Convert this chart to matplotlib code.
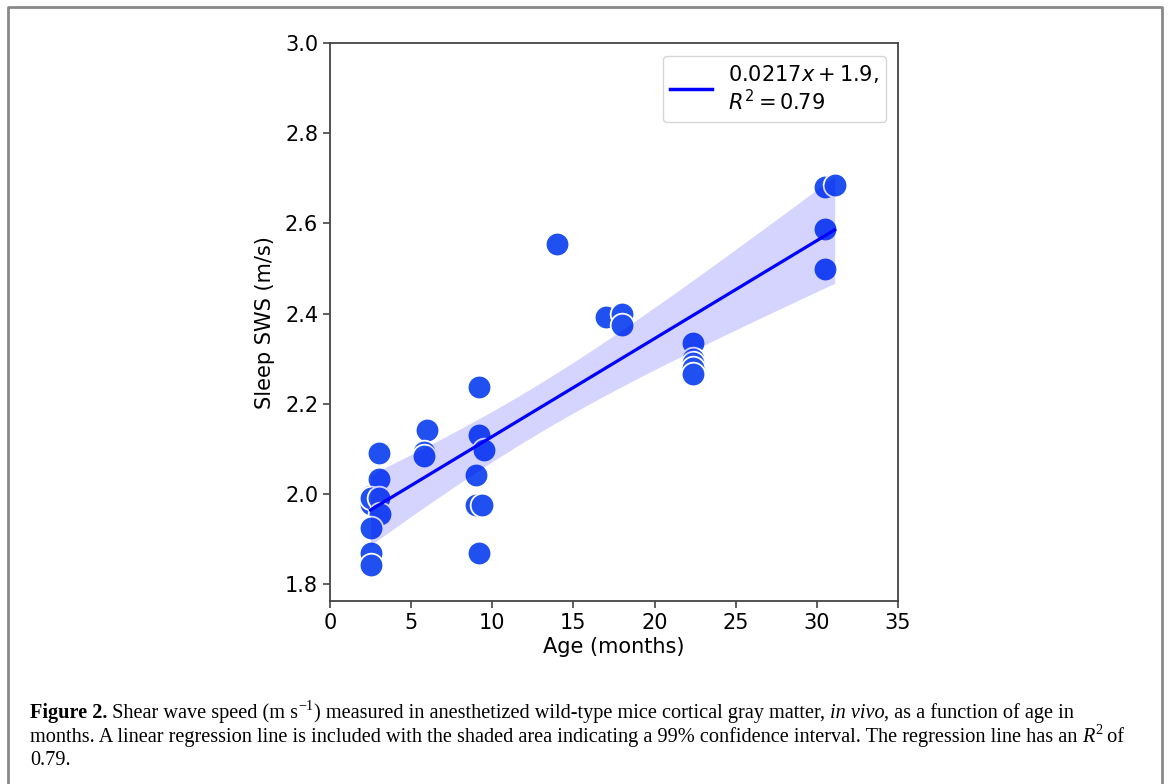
import matplotlib
matplotlib.use("Agg")
import matplotlib.pyplot as plt
from matplotlib.lines import Line2D
import numpy as np

# data
age = [2.5, 2.5, 3.0, 3.0, 2.5, 3.0, 3.1, 2.5, 2.5, 2.5,
       6.0, 5.8, 5.8,
       9.2, 9.2, 9.5, 9.0, 9.0, 9.4, 9.2,
       14.0, 17.0, 18.0, 18.0,
       22.4, 22.4, 22.4, 22.4, 22.4,
       30.5, 31.1, 30.5, 30.5]
sws = [1.995, 1.978, 2.09, 2.032, 1.99, 1.99, 1.955, 1.925, 1.868, 1.842,
       2.142, 2.093, 2.084,
       2.237, 2.130, 2.097, 2.042, 1.975, 1.975, 1.868,
       2.554, 2.392, 2.400, 2.374,
       2.335, 2.300, 2.290, 2.278, 2.265,
       2.681, 2.685, 2.587, 2.499]
legend_text = "$0.0217x + 1.9$,\n$R^2 = 0.79$"
x_ticks = [0, 5, 10, 15, 20, 25, 30, 35]
y_ticks = [1.8, 2.0, 2.2, 2.4, 2.6, 2.8, 3.0]

x = np.array(age)
y = np.array(sws)

# least squares fit + 99% confidence band
slope, inter = np.polyfit(x, y, 1)
n = len(x)
resid = y - (slope * x + inter)
s = np.sqrt(np.sum(resid ** 2) / (n - 2))
t99 = 2.74
xs = np.linspace(x.min(), x.max(), 100)
ys = slope * xs + inter
se = s * np.sqrt(1 / n + (xs - x.mean()) ** 2 / np.sum((x - x.mean()) ** 2))

fig = plt.figure(figsize=(11.7, 7.84), dpi=100)
ax = fig.add_axes([0.282, 0.2334, 0.4855, 0.7116])

ax.scatter(x, y, s=290, color="#2050f0", edgecolor="white", linewidth=1.3, zorder=2)
ax.fill_between(xs, ys - t99 * se, ys + t99 * se, color="blue", alpha=0.17,
                linewidth=0, zorder=3)
ax.plot(xs, ys, color="blue", lw=2.3, zorder=4)

ax.set_xlim(0, 35)
ax.set_ylim(1.762, 3.0)
ax.set_xticks(x_ticks)
ax.set_yticks(y_ticks)
ax.set_yticklabels([f"{v:.1f}" for v in y_ticks])
ax.tick_params(labelsize=15, color="#444444", length=5, width=1.2)
for sp in ax.spines.values():
    sp.set_color("#444444")
    sp.set_linewidth(1.3)
ax.set_xlabel("Age (months)", fontsize=15, labelpad=3)
ax.set_ylabel("Sleep SWS (m/s)", fontsize=15, labelpad=7)

handle = Line2D([], [], color="blue", lw=2.5)
ax.legend([handle], [legend_text], loc="upper right", fontsize=15,
          handlelength=2.0, borderpad=0.35, labelspacing=0.2,
          bbox_to_anchor=(0.998, 0.996))

# outer frame
fig.add_artist(plt.Line2D([8 / 1170, 8 / 1170, 1162 / 1170, 1162 / 1170],
                          [0, 1 - 7 / 784, 1 - 7 / 784, 0],
                          transform=fig.transFigure, color="#8a8a8a", lw=2))

# caption, drawn piece by piece
serif = "Liberation Serif"
cap_size = 14.6
lines = [
    [("Figure 2.", "bold", "normal", 0), (" Shear wave speed (m s", "normal", "normal", 0),
     ("\u22121", "normal", "normal", 1),
     (") measured in anesthetized wild-type mice cortical gray matter, ", "normal", "normal", 0),
     ("in vivo", "normal", "italic", 0), (", as a function of age in", "normal", "normal", 0)],
    [("months. A linear regression line is included with the shaded area indicating a 99% "
      "confidence interval. The regression line has an ", "normal", "normal", 0),
     ("R", "normal", "italic", 0), ("2", "normal", "normal", 1), (" of", "normal", "normal", 0)],
    [("0.79.", "normal", "normal", 0)],
]
baselines = [718, 742, 765]
fig.canvas.draw()
renderer = fig.canvas.get_renderer()
for parts, base in zip(lines, baselines):
    xp = 30.0
    for txt, weight, style, sup in parts:
        size = cap_size * (0.7 if sup else 1)
        yp = base - (8 if sup else 0)
        t = fig.text(xp / 1170, 1 - yp / 784, txt, fontsize=size, family=serif,
                     weight=weight, style=style, va="baseline", ha="left")
        bb = t.get_window_extent(renderer)
        xp += bb.width

fig.savefig("out.png", dpi=100)
